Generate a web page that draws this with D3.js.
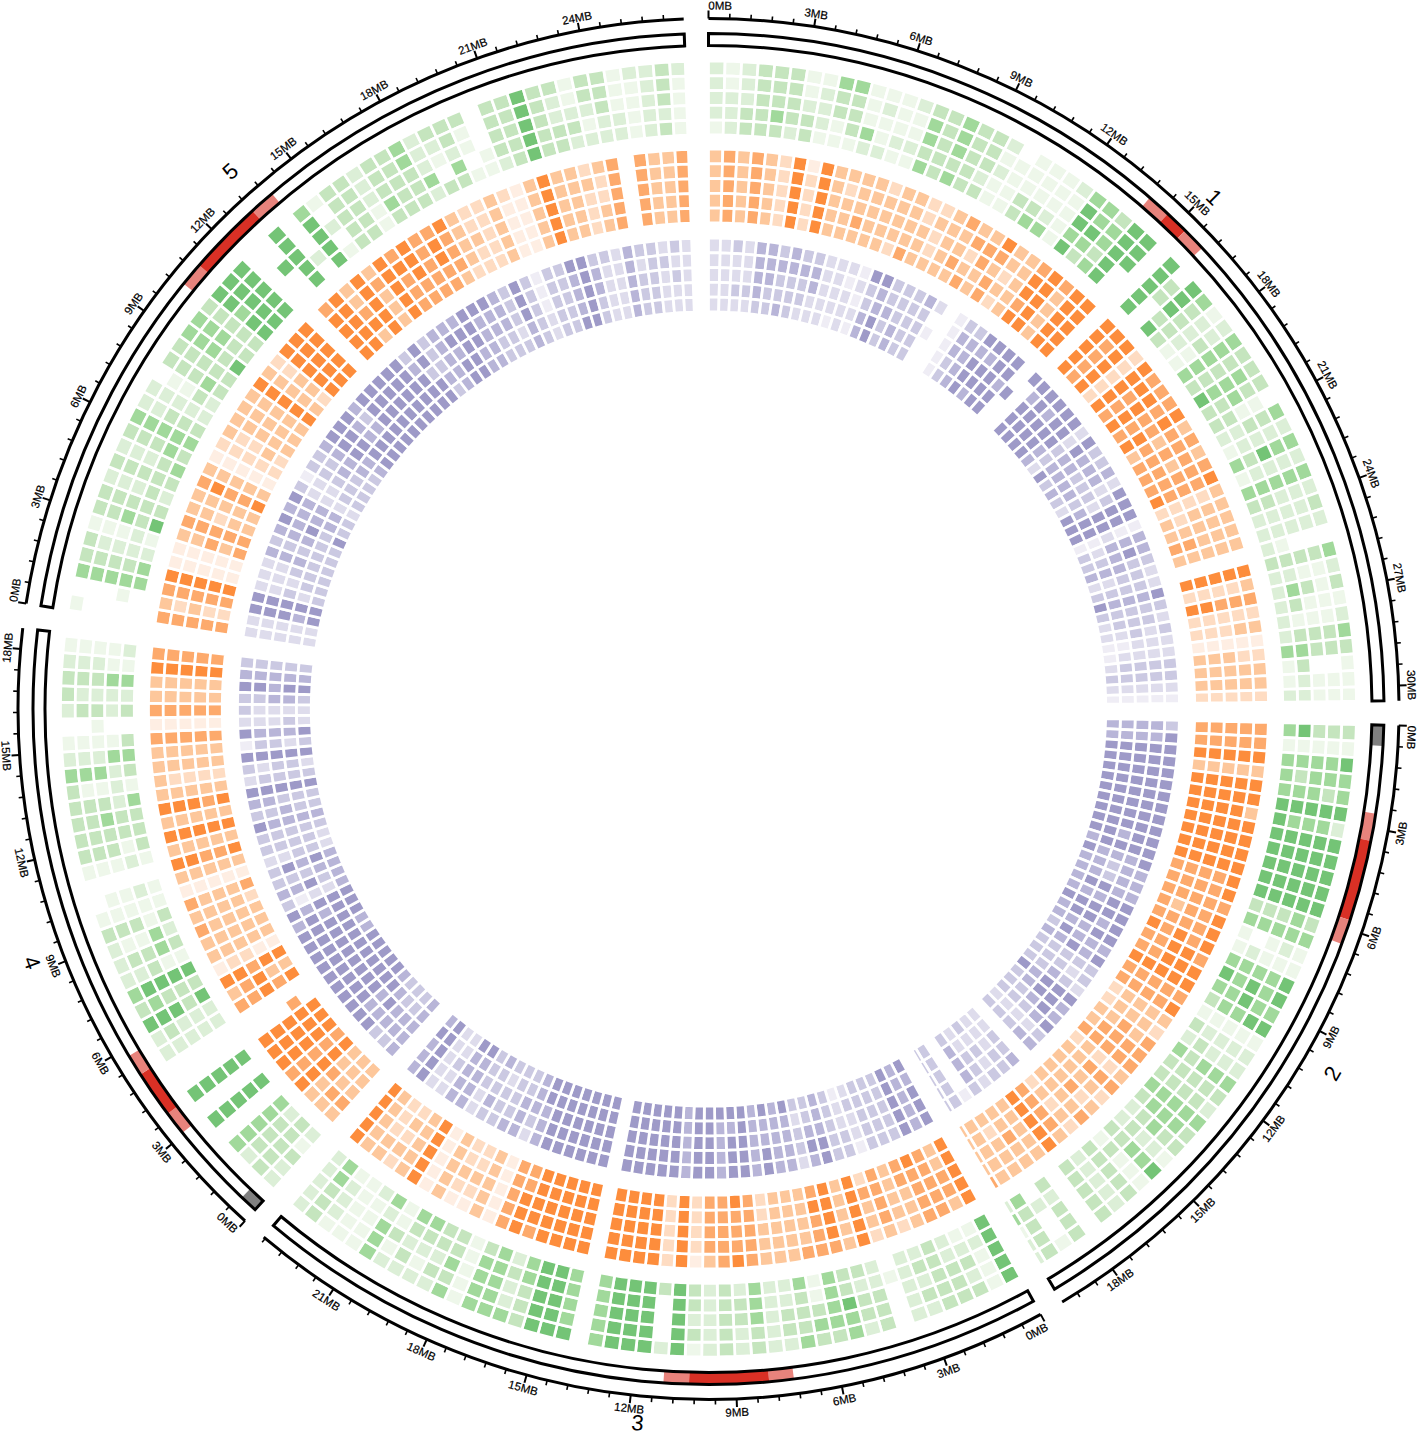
<!DOCTYPE html>
<html>
<head>
<meta charset="utf-8">
<script src="https://cdnjs.cloudflare.com/ajax/libs/d3/7.8.5/d3.min.js"></script>
<style>
  html, body { margin: 0; background: #fff; }
  svg { display: block; }
  text { font-family: "Liberation Sans", Arial, sans-serif; fill: #000; }
</style>
</head>
<body>
<svg id="chart" width="1418" height="1436"></svg>
<script>
// chromosome lengths in MB
const chromosomes = ["1", "2", "3", "4", "5"];
const lengths = [30.43, 19.70, 23.46, 18.59, 26.97];

// cytobands: [chromosome index, from MB, to MB, kind]
const bands = [
  [0, 13.9, 14.6, "peri"], [0, 14.6, 15.3, "cen"], [0, 15.3, 16.0, "peri"],
  [1, 0, 0.6, "rdna"], [1, 2.57, 3.37, "peri"], [1, 3.37, 5.74, "cen"], [1, 5.74, 6.47, "peri"],
  [2, 7.32, 8.04, "peri"], [2, 8.04, 10.36, "cen"], [2, 10.36, 11.1, "peri"],
  [3, 0, 0.52, "rdna"], [3, 3.06, 3.76, "peri"], [3, 3.76, 5.14, "cen"], [3, 5.14, 5.77, "peri"],
  [4, 10.3, 11.0, "peri"], [4, 11.0, 13.2, "cen"], [4, 13.2, 13.95, "peri"]
];

// heatmap levels per 0.5MB bin, one string per bin, outer row first, 0 = no cell
const green1 = ["22221","11222","22233","33333","33343","33332","11233","12221","43311","43331","11142","12112","11121","21121","34434","33333","44434","33333","33323","21211","01111","11133","11134","11124","21111","45545","44543","34434","55555","55500","00000","55555","03300","55535","43333","12221","22311","44444","33333","34445","33433","01133","43322","22221","44534","22221","44444","22233","32222","22222","00012","43333","21122","31342","11132","21112","43332","33344","10031","11121","11122"];
const green2 = ["33354","11111","54444","44434","43444","55555","24445","55555","55555","55555","55555","55555","34333","44444","12101","11121","54444","54545","44544","55443","11111","22223","22232","44434","33333","23333","44444","34443","33432","12232","54433","11131","33333","22222","33333","00000","33323","10020","33334","22142"];
const green3 = ["55555","11121","32321","33322","33333","23232","22222","00010","33322","23323","44533","34444","34311","43334","23322","22222","33444","22332","33333","22222","13233","55555","20003","55555","55555","55555","44444","00000","54444","55555","55555","33344","42232","44444","44443","11111","43433","23233","21234","23234","21311","44424","11112","11111","12221","33344","22222"];
const green4 = ["22312","33333","23332","44444","00000","55555","00000","55555","00000","00000","22222","23222","55535","34333","45555","22311","23343","21142","33313","11111","01121","00000","11121","33313","33333","33433","33324","31121","44423","22244","11113","00100","23323","32222","33344","22211","11112","00000"];
const green5 = ["10000","00010","44444","33334","32222","11121","33435","33333","22232","33333","22234","33343","44444","22333","22222","01132","33343","33333","44435","44433","33333","55455","55555","55555","00000","00500","55555","00020","45555","10201","33333","33333","22211","33343","33333","44333","22242","32103","33243","31101","00011","33332","33333","55555","33333","32233","11232","33212","33322","11122","21111","22222","33323","21111"];

const orange1 = ["33333","44444","33333","44444","33333","22222","55555","12222","55555","33333","32333","33343","33333","23333","33332","33334","22333","23223","33333","43343","34234","34433","54344","33232","33333","45545","55555","43333","55555","55555","00000","55555","54444","55555","22222","55555","45444","45555","44444","55455","34343","44444","34344","44444","54445","32222","33323","33333","33344","33333","00000","55555","32222","44455","22222","33222","11111","22333","33333","33333","22222"];
const orange2 = ["44444","44444","55555","33333","55555","55555","35555","55555","55555","55555","55555","54444","54444","44444","54434","54444","54545","45544","55544","55555","44444","54444","33332","23332","43433","44443","44444","32232","44433","23333","32433","43333","23232","34444","55555","33333","33433","33323","33333","43333"];
const orange3 = ["55555","34433","44444","44445","33344","23333","34444","23342","55555","33333","45555","44454","43333","33333","33333","33322","44444","54445","44444","34444","12222","55555","22222","55555","55555","55555","55555","00000","55555","55555","55555","55555","45555","55544","44444","11111","33333","12322","12322","33333","11111","55555","33333","23232","33222","33333","55555"];
const orange4 = ["34333","34333","33433","55555","44444","55555","55555","55555","00040","00000","44545","34533","55455","12211","33333","33333","43333","33332","43334","11111","33333","55445","33333","55555","33333","55545","33333","32222","33333","33333","44444","11111","44444","33333","33333","55555","44444","00000"];
const orange5 = ["44444","32322","44444","55555","11111","11111","33434","44444","33233","33333","45445","33333","11111","22222","32232","33333","33333","33333","55555","33333","22332","55555","55555","55555","00000","45555","55555","33453","55555","34333","55555","45444","55544","44444","45544","54443","33332","22322","22222","33333","21111","11111","33333","55555","33333","33333","23222","32233","44444","00000","44444","33333","33333","44444"];

const purple1 = ["22222","22222","32232","22232","44443","44433","34334","44333","34332","34422","22222","22221","21222","12121","53344","54455","33433","33344","33333","43333","20100","00000","11111","34433","34444","54555","54554","55555","55455","00500","50000","54555","55555","54555","55555","55544","22332","55445","34443","34344","44343","22332","53245","55555","55555","11211","44423","45433","33444","23322","23333","54445","33333","23332","32322","22211","22221","33332","33333","22222","11111"];
const purple2 = ["34444","54444","55555","55555","55555","55555","55555","55555","55555","55555","55455","55554","54445","44344","44344","44554","55444","55555","54554","55444","44453","54544","33333","32333","23433","55545","45543","45433","54333","32222","44333","00000","43322","33222","32323","23322","34443","10000","33333","33333"];
const purple3 = ["55545","44444","55555","33333","33333","33333","12232","33221","33333","55444","45433","23323","44445","44444","55445","44444","55555","55545","44445","55555","55555","44444","55555","55555","55555","55555","55555","00000","55555","55555","55555","55555","55555","55555","44455","23444","44433","43333","33323","34334","22333","44445","44445","22322","22222","55555","44454"];
const purple4 = ["44444","34433","34433","54543","54454","55555","55555","55555","55555","55555","55554","55554","55555","45455","54555","31224","44534","33344","35454","22332","33332","33333","54444","33433","44333","55555","23333","32332","55555","13323","54445","22232","32222","33443","55455","44444","33333","00000"];
const purple5 = ["22222","22222","55545","55555","22323","22233","22333","44433","33333","44433","54535","44443","54443","32222","12233","33333","33433","44443","55544","55555","54455","43455","55555","55555","55555","55555","55555","34555","55355","33343","44444","45455","45555","55544","54444","54433","44433","33323","55544","33333","11122","33333","33333","54445","55555","34433","32222","22222","44444","32333","33333","23222","32322","22222"];

const greens = ["#eef7ea", "#dcefd7", "#c5e5be", "#a1d99b", "#74c476"];
const oranges = ["#feeee3", "#fedcc2", "#fdc79b", "#fdaa6c", "#fd8d3c"];
const purples = ["#efedf5", "#dedcec", "#cbc9e2", "#b8b5d8", "#9e9ac8"];

const rings = [
  { outer: 648, cols: [green1, green2, green3, green4, green5], colors: greens },
  { outer: 560, cols: [orange1, orange2, orange3, orange4, orange5], colors: oranges },
  { outer: 471, cols: [purple1, purple2, purple3, purple4, purple5], colors: purples }
];

const cx = 708.5, cy = 709;
const degPerMb = 2.935;
const rowPitch = 14.75;
const binSize = 0.5;

const svg = d3.select("#chart");
const g = svg.append("g").attr("transform", `translate(${cx},${cy})`);

const gap = (360 - d3.sum(lengths) * degPerMb) / chromosomes.length;
let start = 0;
const scales = lengths.map(len => {
  const s = d3.scaleLinear().domain([0, len]).range([start, start + len * degPerMb]);
  start += len * degPerMb + gap;
  return s;
});
const rad = d => d * Math.PI / 180;
const arc = d3.arc();

// heatmap rings
rings.forEach(ring => {
  const rowScale = d3.scaleLinear().domain([0, 5]).range([ring.outer, ring.outer - 5 * rowPitch]);
  const fill = d3.scaleOrdinal().domain([1, 2, 3, 4, 5]).range(ring.colors);
  const layer = g.append("g");
  ring.cols.forEach((cols, c) => {
    const cells = [];
    cols.forEach((col, bin) => {
      [...col].map(Number).forEach((level, row) => {
        if (level > 0) cells.push({ bin, row, level });
      });
    });
    layer.selectAll(null)
      .data(cells)
      .join("path")
      .attr("d", d => arc({
        outerRadius: rowScale(d.row),
        innerRadius: rowScale(d.row + 1),
        startAngle: rad(scales[c](d.bin * binSize)),
        endAngle: rad(scales[c](Math.min((d.bin + 1) * binSize, lengths[c])))
      }))
      .attr("fill", d => fill(d.level))
      .attr("stroke", "#fff")
      .attr("stroke-width", 2.75);
  });
});

// ideogram
const bandColor = { peri: "#e8837c", cen: "#d93025", rdna: "#808080" };
const ideoOuter = 675.5, ideoInner = 663.5;
g.append("g").selectAll("path")
  .data(bands)
  .join("path")
  .attr("d", d => arc({
    outerRadius: ideoOuter, innerRadius: ideoInner,
    startAngle: rad(scales[d[0]](d[1])), endAngle: rad(scales[d[0]](d[2]))
  }))
  .attr("fill", d => bandColor[d[3]]);
g.append("g").selectAll("path")
  .data(lengths)
  .join("path")
  .attr("d", (len, i) => arc({
    outerRadius: ideoOuter, innerRadius: ideoInner,
    startAngle: rad(scales[i](0)), endAngle: rad(scales[i](len))
  }))
  .attr("fill", "none")
  .attr("stroke", "#000")
  .attr("stroke-width", 3);

// flip text on the lower half, a is the angle that decides, at the angle drawn
const flipped = a => a > 92 && a < 270;
const labelTransform = (a, at, r, extra) => flipped(a)
  ? `rotate(${at}) translate(0,${-r - extra}) rotate(180)`
  : `rotate(${at}) translate(0,${-r})`;

// tick axes
const tickR = 690.5;
lengths.forEach((len, i) => {
  const s = scales[i];
  const axis = g.append("g");
  axis.append("path")
    .attr("d", d3.arc()({
      innerRadius: tickR, outerRadius: tickR,
      startAngle: rad(s(0)), endAngle: rad(s(len))
    }))
    .attr("fill", "none")
    .attr("stroke", "#000")
    .attr("stroke-width", 3);
  axis.selectAll("line")
    .data(d3.range(0, Math.floor(len / 0.6) + 1))
    .join("line")
    .attr("y1", -tickR)
    .attr("y2", k => k % 5 === 0 ? -tickR - 8 : -tickR - 5)
    .attr("stroke", "#000")
    .attr("stroke-width", k => k % 5 === 0 ? 2 : 1.6)
    .attr("transform", k => `rotate(${s(k * 0.6)})`);
  // the 0MB label sits just past its tick instead of centred on it
  axis.selectAll("text")
    .data(d3.range(0, len, 3))
    .join("text")
    .attr("text-anchor", "middle")
    .attr("font-size", 11.5)
    .attr("stroke", "#000")
    .attr("stroke-width", 0.2)
    .attr("transform", mb => labelTransform(s(mb), s(mb) + (mb === 0 ? 0.95 : 0), 699.5, 8.3))
    .text(mb => `${mb}MB`);
  const mid = s(len / 2);
  // chromosome 3 sits at the bottom edge of the page, so less room there
  g.append("text")
    .attr("text-anchor", "middle")
    .attr("font-size", 22)
    .attr("transform", labelTransform(mid, mid, 712, i === 2 ? 13 : 18))
    .text(chromosomes[i]);
});
</script>
</body>
</html>
